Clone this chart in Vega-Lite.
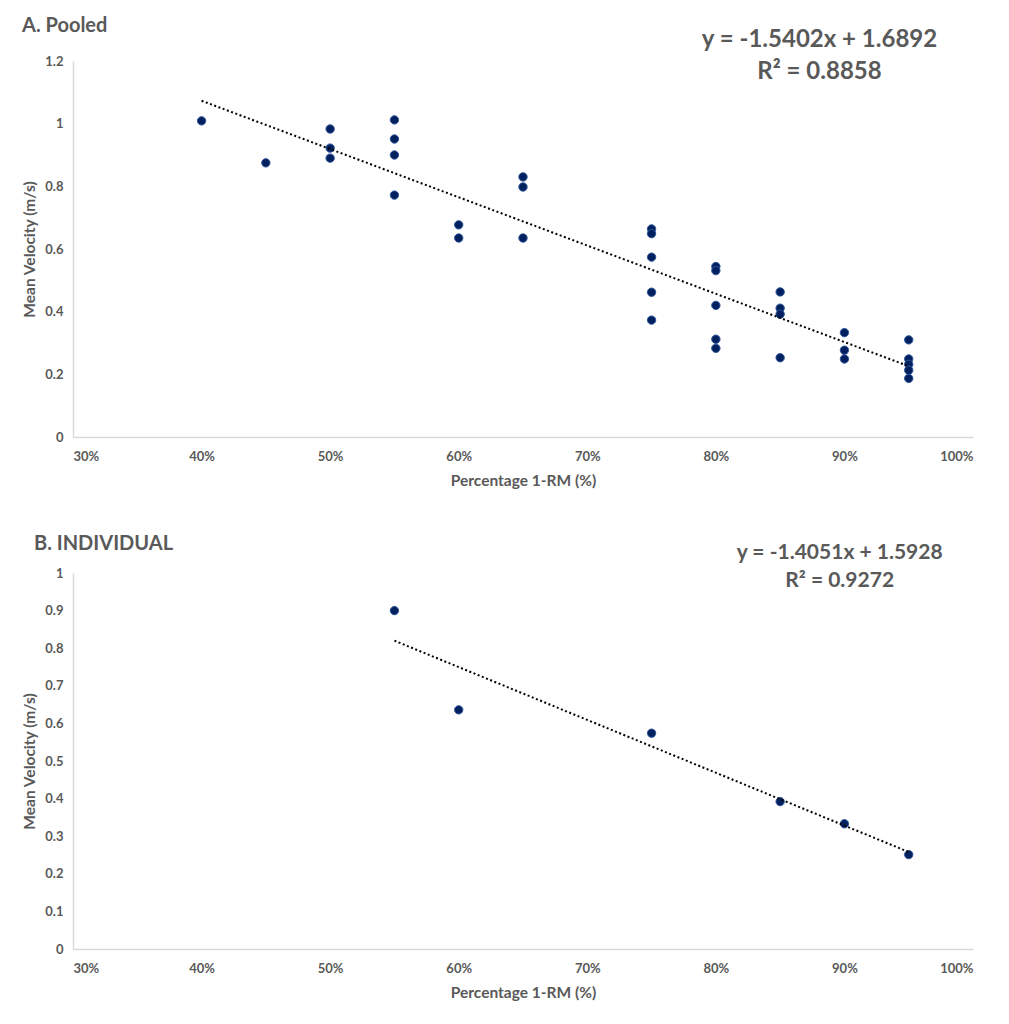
{
  "$schema": "https://vega.github.io/schema/vega-lite/v6.json",
  "padding": {"left": 22, "top": 16, "right": 10, "bottom": 3},
  "background": "white",
  "spacing": 44,
  "config": {
    "font": "Lato",
    "view": {"stroke": null},
    "axis": {
      "grid": false, "ticks": false, "domainColor": "#d9d9d9", "domainWidth": 1.5,
      "labelColor": "#595959", "labelFont": "Lato", "labelFontSize": 13, "labelFontWeight": "bold",
      "titleColor": "#595959", "titleFont": "Lato", "titleFontSize": 15.5, "titleFontWeight": "bold",
      "labelPadding": 10, "labelOverlap": false
    },
    "axisY": {"titlePadding": 7},
    "axisX": {"titlePadding": 10, "labelPadding": 13}
  },
  "datasets": {
    "pooled": [
      {"pct": 0.40, "v": 1.009},
      {"pct": 0.45, "v": 0.875},
      {"pct": 0.50, "v": 0.983},
      {"pct": 0.50, "v": 0.922},
      {"pct": 0.50, "v": 0.890},
      {"pct": 0.55, "v": 1.012},
      {"pct": 0.55, "v": 0.951},
      {"pct": 0.55, "v": 0.900},
      {"pct": 0.55, "v": 0.772},
      {"pct": 0.60, "v": 0.677},
      {"pct": 0.60, "v": 0.635},
      {"pct": 0.65, "v": 0.830},
      {"pct": 0.65, "v": 0.798},
      {"pct": 0.65, "v": 0.635},
      {"pct": 0.75, "v": 0.664},
      {"pct": 0.75, "v": 0.649},
      {"pct": 0.75, "v": 0.574},
      {"pct": 0.75, "v": 0.462},
      {"pct": 0.75, "v": 0.373},
      {"pct": 0.80, "v": 0.544},
      {"pct": 0.80, "v": 0.531},
      {"pct": 0.80, "v": 0.420},
      {"pct": 0.80, "v": 0.312},
      {"pct": 0.80, "v": 0.283},
      {"pct": 0.85, "v": 0.463},
      {"pct": 0.85, "v": 0.411},
      {"pct": 0.85, "v": 0.392},
      {"pct": 0.85, "v": 0.253},
      {"pct": 0.90, "v": 0.333},
      {"pct": 0.90, "v": 0.277},
      {"pct": 0.90, "v": 0.249},
      {"pct": 0.95, "v": 0.310},
      {"pct": 0.95, "v": 0.249},
      {"pct": 0.95, "v": 0.232},
      {"pct": 0.95, "v": 0.213},
      {"pct": 0.95, "v": 0.187}
    ],
    "pooledTrend": [
      {"pct": 0.40, "v": 1.0731},
      {"pct": 0.95, "v": 0.2260}
    ],
    "indiv": [
      {"pct": 0.55, "v": 0.900},
      {"pct": 0.60, "v": 0.636},
      {"pct": 0.75, "v": 0.574},
      {"pct": 0.85, "v": 0.392},
      {"pct": 0.90, "v": 0.333},
      {"pct": 0.95, "v": 0.251}
    ],
    "indivTrend": [
      {"pct": 0.55, "v": 0.8200},
      {"pct": 0.95, "v": 0.2580}
    ]
  },
  "vconcat": [
    {
      "width": 900,
      "height": 376,
      "title": {"text": "A. Pooled", "anchor": "start", "frame": "group", "dx": -51, "offset": -8, "fontSize": 20, "fontWeight": "bold", "color": "#595959", "font": "Lato"},
      "layer": [
        {
          "data": {"name": "pooled"},
          "mark": {"type": "point", "filled": true, "size": 70, "fill": "#002060", "stroke": "#2f5597", "strokeWidth": 1, "opacity": 1},
          "encoding": {
            "x": {"field": "pct", "type": "quantitative", "scale": {"domain": [0.3, 1.0], "nice": false, "zero": false},
                  "axis": {"values": [0.3, 0.4, 0.5, 0.6, 0.7, 0.8, 0.9, 1.0], "format": ".0%", "labelOverlap": false}, "title": "Percentage 1-RM (%)"},
            "y": {"field": "v", "type": "quantitative", "scale": {"domain": [0, 1.2], "nice": false},
                  "axis": {"values": [0, 0.2, 0.4, 0.6, 0.8, 1.0, 1.2], "format": "~g", "labelOverlap": false}, "title": "Mean Velocity (m/s)"}
          }
        },
        {
          "data": {"name": "pooledTrend"},
          "mark": {"type": "line", "color": "black", "strokeDash": [2, 2.5], "strokeWidth": 2},
          "encoding": {
            "x": {"field": "pct", "type": "quantitative",
                  "axis": {"values": [0.3, 0.4, 0.5, 0.6, 0.7, 0.8, 0.9, 1.0], "format": ".0%", "labelOverlap": false}, "title": "Percentage 1-RM (%)"},
            "y": {"field": "v", "type": "quantitative",
                  "axis": {"values": [0, 0.2, 0.4, 0.6, 0.8, 1.0, 1.2], "format": "~g", "labelOverlap": false}, "title": "Mean Velocity (m/s)"}
          }
        },
        {
          "data": {"values": [{}]},
          "mark": {"type": "text", "text": "y = -1.5402x + 1.6892", "fontSize": 24, "fontWeight": "bold", "color": "#595959", "font": "Lato", "align": "center", "baseline": "middle"},
          "encoding": {
            "x": {"datum": 0.8806, "type": "quantitative",
                  "axis": {"values": [0.3, 0.4, 0.5, 0.6, 0.7, 0.8, 0.9, 1.0], "format": ".0%", "labelOverlap": false}, "title": "Percentage 1-RM (%)"},
            "y": {"datum": 1.267, "type": "quantitative",
                  "axis": {"values": [0, 0.2, 0.4, 0.6, 0.8, 1.0, 1.2], "format": "~g", "labelOverlap": false}, "title": "Mean Velocity (m/s)"}
          }
        },
        {
          "data": {"values": [{}]},
          "mark": {"type": "text", "text": "R² = 0.8858", "fontSize": 24, "fontWeight": "bold", "color": "#595959", "font": "Lato", "align": "center", "baseline": "middle"},
          "encoding": {
            "x": {"datum": 0.8806, "type": "quantitative",
                  "axis": {"values": [0.3, 0.4, 0.5, 0.6, 0.7, 0.8, 0.9, 1.0], "format": ".0%", "labelOverlap": false}, "title": "Percentage 1-RM (%)"},
            "y": {"datum": 1.165, "type": "quantitative",
                  "axis": {"values": [0, 0.2, 0.4, 0.6, 0.8, 1.0, 1.2], "format": "~g", "labelOverlap": false}, "title": "Mean Velocity (m/s)"}
          }
        }
      ]
    },
    {
      "width": 900,
      "height": 376,
      "title": {"text": "B. INDIVIDUAL", "anchor": "start", "frame": "group", "dx": -39, "offset": -12, "fontSize": 20, "fontWeight": "bold", "color": "#595959", "font": "Lato"},
      "layer": [
        {
          "data": {"name": "indiv"},
          "mark": {"type": "point", "filled": true, "size": 70, "fill": "#002060", "stroke": "#2f5597", "strokeWidth": 1, "opacity": 1},
          "encoding": {
            "x": {"field": "pct", "type": "quantitative", "scale": {"domain": [0.3, 1.0], "nice": false, "zero": false},
                  "axis": {"values": [0.3, 0.4, 0.5, 0.6, 0.7, 0.8, 0.9, 1.0], "format": ".0%", "labelOverlap": false}, "title": "Percentage 1-RM (%)"},
            "y": {"field": "v", "type": "quantitative", "scale": {"domain": [0, 1.0], "nice": false},
                  "axis": {"values": [0, 0.1, 0.2, 0.3, 0.4, 0.5, 0.6, 0.7, 0.8, 0.9, 1.0], "format": "~g", "labelOverlap": false}, "title": "Mean Velocity (m/s)"}
          }
        },
        {
          "data": {"name": "indivTrend"},
          "mark": {"type": "line", "color": "black", "strokeDash": [2, 2.5], "strokeWidth": 2},
          "encoding": {
            "x": {"field": "pct", "type": "quantitative",
                  "axis": {"values": [0.3, 0.4, 0.5, 0.6, 0.7, 0.8, 0.9, 1.0], "format": ".0%", "labelOverlap": false}, "title": "Percentage 1-RM (%)"},
            "y": {"field": "v", "type": "quantitative",
                  "axis": {"values": [0, 0.1, 0.2, 0.3, 0.4, 0.5, 0.6, 0.7, 0.8, 0.9, 1.0], "format": "~g", "labelOverlap": false}, "title": "Mean Velocity (m/s)"}
          }
        },
        {
          "data": {"values": [{}]},
          "mark": {"type": "text", "text": "y = -1.4051x + 1.5928", "fontSize": 21, "fontWeight": "bold", "color": "#595959", "font": "Lato", "align": "center", "baseline": "middle"},
          "encoding": {
            "x": {"datum": 0.8963, "type": "quantitative",
                  "axis": {"values": [0.3, 0.4, 0.5, 0.6, 0.7, 0.8, 0.9, 1.0], "format": ".0%", "labelOverlap": false}, "title": "Percentage 1-RM (%)"},
            "y": {"datum": 1.054, "type": "quantitative",
                  "axis": {"values": [0, 0.1, 0.2, 0.3, 0.4, 0.5, 0.6, 0.7, 0.8, 0.9, 1.0], "format": "~g", "labelOverlap": false}, "title": "Mean Velocity (m/s)"}
          }
        },
        {
          "data": {"values": [{}]},
          "mark": {"type": "text", "text": "R² = 0.9272", "fontSize": 21, "fontWeight": "bold", "color": "#595959", "font": "Lato", "align": "center", "baseline": "middle"},
          "encoding": {
            "x": {"datum": 0.8963, "type": "quantitative",
                  "axis": {"values": [0.3, 0.4, 0.5, 0.6, 0.7, 0.8, 0.9, 1.0], "format": ".0%", "labelOverlap": false}, "title": "Percentage 1-RM (%)"},
            "y": {"datum": 0.980, "type": "quantitative",
                  "axis": {"values": [0, 0.1, 0.2, 0.3, 0.4, 0.5, 0.6, 0.7, 0.8, 0.9, 1.0], "format": "~g", "labelOverlap": false}, "title": "Mean Velocity (m/s)"}
          }
        }
      ]
    }
  ]
}
